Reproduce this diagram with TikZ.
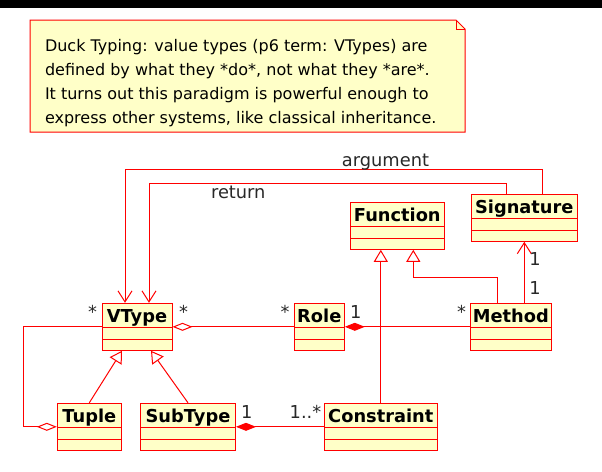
\documentclass[tikz,border=0pt]{standalone}
\usepackage{fontspec}
\setmainfont{DejaVu Sans}
\usetikzlibrary{
  arrows.meta,
  positioning
}
\definecolor{umlred}{RGB}{255,0,0}
\definecolor{umlfill}{RGB}{255,255,200}
\definecolor{umlgray}{RGB}{40,40,40}

\begin{document}
\begin{tikzpicture}[
  x=1pt, y=-1pt,
  line width=1pt,
  cls/.style={
    rectangle, draw=umlred, fill=umlfill,
    inner xsep=0pt, inner ysep=0pt,
    minimum height=47pt, text height=19pt, text depth=28pt,
    font=\fontsize{17.8}{20}\selectfont\bfseries,
    path picture={
      \draw[umlred, line width=1pt]
        ([yshift=-24pt]path picture bounding box.north west) -- ([yshift=-24pt]path picture bounding box.north east)
        ([yshift=-36pt]path picture bounding box.north west) -- ([yshift=-36pt]path picture bounding box.north east);
    }
  },
  notebox/.style={draw=umlred, fill=umlfill},
  notetext/.style={align=left, inner sep=0pt, font=\fontsize{16}{24}\selectfont},
  assoc/.style={draw=umlred},
  nav/.style={assoc, -{Straight Barb[length=11pt,width=14pt]}},
  gen/.style={assoc, -{Triangle[open,length=12pt,width=14pt]}},
  aggr/.style={assoc, {Diamond[open,length=20pt,width=8pt]}-},
  comp/.style={assoc, {Diamond[length=20pt,width=8pt]}-},
  mult/.style={text=umlgray, inner sep=0pt, anchor=base, font=\fontsize{17.8}{20}\selectfont}
]
  \useasboundingbox (0,0) rectangle (602,471);
  \fill[black] (0,0) rectangle (602,8);

  % Note
  \draw[notebox] (30,20) -- (456,20) -- (465,29) -- (465,132) -- (30,132) -- cycle;
  \draw[umlred] (456,20) -- (456,29) -- (465,29);
  \node[notetext, anchor=north west] (note) at (44.5,39.3)
    {Duck Typing: value types (p6 term: VTypes) are\\
     defined by what they *do*, not what they *are*.\\
     It turns out this paradigm is powerful enough to\\
     express other systems, like classical inheritance.};

  % Classes
  \node[cls, minimum width=70pt] (vtype) at (137,326.8) {VType};
  \node[cls, minimum width=50pt] (role) at (319.3,326.8) {Role};
  \node[cls, minimum width=81pt] (method) at (510.8,326.8) {Method};
  \node[cls, minimum width=94pt] (func) at (397.3,225.8) {Function};
  \node[cls, minimum width=106pt] (sig) at (524.3,217.8) {Signature};
  \node[cls, minimum width=64pt] (tuple) at (89.3,426.8) {Tuple};
  \node[cls, minimum width=95pt] (subtype) at (188,426.8) {SubType};
  \node[cls, minimum width=113pt] (constraint) at (380.8,426.8) {Constraint};

  % Signature to VType
  \draw[nav] ([xshift=18pt]sig.north) -- ++(0,-24) -| ([xshift=-12pt]vtype.north);
  \draw[nav] ([xshift=-17.5pt]sig.north) -- ++(0,-10) -| ([xshift=12pt]vtype.north);
  \node[mult] (arglbl) at (385.5,166.5) {argument};
  \node[mult] (retlbl) at (238.3,198.3) {return};

  % Aggregation and composition
  \draw[aggr] (vtype) -- (role);
  \draw[comp] (role) -- (method);
  \draw[comp] (subtype) -- (constraint);
  \draw[aggr] (tuple.west) -- ++(-33,0) |- (vtype.west);

  % Generalization
  \draw[gen] (tuple.north) -- ([xshift=-15pt]vtype.south);
  \draw[gen] (subtype.north) -- ([xshift=14pt]vtype.south);
  \draw[gen] (constraint.north) -- (constraint.north |- func.south);
  \draw[gen] ([xshift=-13pt]method.north) -- ++(0,-25) -| ([xshift=16pt]func.south);
  \draw[nav] (sig.south |- method.north) -- (sig.south);

  % Multiplicities
  \node[mult] (m1) at (92.5,318.3) {*};
  \node[mult] (m2) at (183.5,318.3) {*};
  \node[mult] (m3) at (285,318.3) {*};
  \node[mult] (m4) at (355.8,318.3) {1};
  \node[mult] (m5) at (461.5,318.3) {*};
  \node[mult] (m6) at (535,265) {1};
  \node[mult] (m7) at (535,294) {1};
  \node[mult] (m8) at (246.7,418.3) {1};
  \node[mult] (m9) at (305.5,418.3) {1..*};
\end{tikzpicture}
\end{document}
